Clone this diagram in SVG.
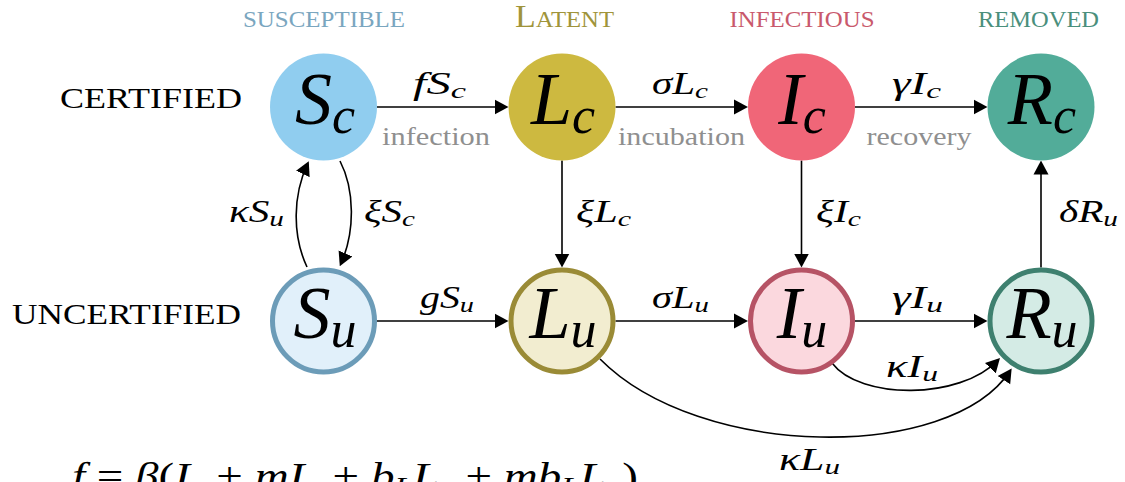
<svg xmlns="http://www.w3.org/2000/svg" width="1125" height="482" viewBox="0 0 1125 482">
<style>
.hd{font-family:"Liberation Serif",serif;}
.rl{font-family:"Liberation Serif",serif;font-size:30px;fill:#000;}
.nl{font-family:"Liberation Serif",serif;font-style:italic;font-size:74px;fill:#000;text-anchor:middle;}
.el{font-family:"Liberation Serif",serif;font-style:italic;font-size:31px;fill:#000;}
.gr{font-family:"Liberation Serif",serif;font-size:26px;fill:#8f8f8f;text-anchor:middle;}
.fm{font-family:"Liberation Serif",serif;font-size:37px;fill:#000;}
.c{fill:none;stroke:#000;stroke-width:1.6;marker-end:url(#ah);}
</style>
<defs>
<marker id="ah" markerUnits="userSpaceOnUse" markerWidth="14" markerHeight="16" refX="11" refY="8" orient="auto">
<path d="M0,0.5 L14,8 L0,15.5 z" fill="#000"/>
</marker>
</defs>

<g id="headers" class="hd">
<text x="324" y="27" font-size="22.5" fill="#7aa6bf" text-anchor="middle" textLength="162" lengthAdjust="spacingAndGlyphs">SUSCEPTIBLE</text>
<text x="564.5" y="27" fill="#a0943a" text-anchor="middle" textLength="99" lengthAdjust="spacingAndGlyphs"><tspan font-size="31">L</tspan><tspan font-size="22.5">ATENT</tspan></text>
<text x="802" y="27" font-size="22.5" fill="#c9596c" text-anchor="middle" textLength="145" lengthAdjust="spacingAndGlyphs">INFECTIOUS</text>
<text x="1038.5" y="27" font-size="22.5" fill="#4a8f7c" text-anchor="middle" textLength="121" lengthAdjust="spacingAndGlyphs">REMOVED</text>
</g>

<g id="rowlabels">
<text class="rl" x="60" y="108" textLength="182" lengthAdjust="spacingAndGlyphs">CERTIFIED</text>
<text class="rl" x="12" y="324" textLength="229" lengthAdjust="spacingAndGlyphs">UNCERTIFIED</text>
</g>

<g id="connectors">
<line class="c" x1="377" y1="107" x2="505.5" y2="107"/>
<line class="c" x1="615.5" y1="107" x2="745" y2="107"/>
<line class="c" x1="855" y1="107" x2="984.5" y2="107"/>
<line class="c" x1="377" y1="321" x2="505.5" y2="321"/>
<line class="c" x1="615.5" y1="321" x2="745" y2="321"/>
<line class="c" x1="855" y1="321" x2="984.5" y2="321"/>
<line class="c" x1="562" y1="160.5" x2="562" y2="264.5"/>
<line class="c" x1="801.5" y1="160.5" x2="801.5" y2="264.5"/>
<line class="c" x1="1041" y1="267.5" x2="1041" y2="163.5"/>
<path class="c" d="M307,267 C292,235 293,195 307.5,164"/>
<path class="c" d="M340,161 C355,190 355,232 341,263.5"/>
<path class="c" d="M832,363 C860,400 960,400 997.9,360.2"/>
<path class="c" d="M600,359 C700,460 950,462 1010,371"/>
</g>

<g id="edgelabels">
<text class="el" x="413" y="94" textLength="53" lengthAdjust="spacingAndGlyphs">fS<tspan font-size="22" dy="4">c</tspan></text>
<text class="el" x="652" y="94" textLength="56" lengthAdjust="spacingAndGlyphs">σL<tspan font-size="22" dy="4">c</tspan></text>
<text class="el" x="892" y="94" textLength="49" lengthAdjust="spacingAndGlyphs">γI<tspan font-size="22" dy="4">c</tspan></text>
<text class="gr" x="436" y="145" textLength="108" lengthAdjust="spacingAndGlyphs">infection</text>
<text class="gr" x="681.5" y="145" textLength="127" lengthAdjust="spacingAndGlyphs">incubation</text>
<text class="gr" x="919" y="145" textLength="105" lengthAdjust="spacingAndGlyphs">recovery</text>
<text class="el" x="229" y="222" textLength="55" lengthAdjust="spacingAndGlyphs">κS<tspan font-size="22" dy="4">u</tspan></text>
<text class="el" x="364" y="222" textLength="51" lengthAdjust="spacingAndGlyphs">ξS<tspan font-size="22" dy="4">c</tspan></text>
<text class="el" x="576" y="222" textLength="55" lengthAdjust="spacingAndGlyphs">ξL<tspan font-size="22" dy="4">c</tspan></text>
<text class="el" x="816" y="222" textLength="45" lengthAdjust="spacingAndGlyphs">ξI<tspan font-size="22" dy="4">c</tspan></text>
<text class="el" x="1059" y="222" textLength="59" lengthAdjust="spacingAndGlyphs">δR<tspan font-size="22" dy="4">u</tspan></text>
<text class="el" x="420" y="308" textLength="54" lengthAdjust="spacingAndGlyphs">gS<tspan font-size="22" dy="4">u</tspan></text>
<text class="el" x="652" y="308" textLength="57" lengthAdjust="spacingAndGlyphs">σL<tspan font-size="22" dy="4">u</tspan></text>
<text class="el" x="892" y="308" textLength="51" lengthAdjust="spacingAndGlyphs">γI<tspan font-size="22" dy="4">u</tspan></text>
<text class="el" x="886" y="377" textLength="52" lengthAdjust="spacingAndGlyphs">κI<tspan font-size="22" dy="4">u</tspan></text>
<text class="el" x="779" y="470" textLength="61" lengthAdjust="spacingAndGlyphs">κL<tspan font-size="22" dy="4">u</tspan></text>
</g>

<g id="node-Sc"><circle cx="323.5" cy="107" r="53.5" fill="#90cdef"/><text class="nl" x="325" y="124">S<tspan font-size="52" dy="9">c</tspan></text></g>
<g id="node-Lc"><circle cx="562" cy="107" r="53.5" fill="#cdb940"/><text class="nl" x="563" y="124">L<tspan font-size="52" dy="9">c</tspan></text></g>
<g id="node-Ic"><circle cx="801.5" cy="107" r="53.5" fill="#f06678"/><text class="nl" x="802" y="124">I<tspan font-size="52" dy="9">c</tspan></text></g>
<g id="node-Rc"><circle cx="1041" cy="107" r="53.5" fill="#52ac99"/><text class="nl" x="1042" y="124">R<tspan font-size="52" dy="9">c</tspan></text></g>

<g id="node-Su"><circle cx="323.5" cy="321" r="51" fill="#e1f0fa" stroke="#6c9cb8" stroke-width="5"/><text class="nl" x="325" y="338">S<tspan font-size="52" dy="9">u</tspan></text></g>
<g id="node-Lu"><circle cx="562" cy="321" r="51" fill="#f2edd0" stroke="#9a8b36" stroke-width="5"/><text class="nl" x="563" y="338">L<tspan font-size="52" dy="9">u</tspan></text></g>
<g id="node-Iu"><circle cx="801.5" cy="321" r="51" fill="#fbd8de" stroke="#b65365" stroke-width="5"/><text class="nl" x="802" y="338">I<tspan font-size="52" dy="9">u</tspan></text></g>
<g id="node-Ru"><circle cx="1041" cy="321" r="51" fill="#d4ebe5" stroke="#3e806f" stroke-width="5"/><text class="nl" x="1042" y="338">R<tspan font-size="52" dy="9">u</tspan></text></g>

<g id="formula">
<text class="fm" x="72" y="489" textLength="566" lengthAdjust="spacingAndGlyphs"><tspan font-style="italic">f</tspan> = <tspan font-style="italic">β</tspan>(<tspan font-style="italic">I</tspan><tspan font-size="26" font-style="italic" dy="6">c</tspan><tspan dy="-6"> + </tspan><tspan font-style="italic">mI</tspan><tspan font-size="26" font-style="italic" dy="6">u</tspan><tspan dy="-6"> + </tspan><tspan font-style="italic">b</tspan><tspan font-size="26" font-style="italic" dy="6">L</tspan><tspan font-style="italic" dy="-6">L</tspan><tspan font-size="26" font-style="italic" dy="6">c</tspan><tspan dy="-6"> + </tspan><tspan font-style="italic">mb</tspan><tspan font-size="26" font-style="italic" dy="6">L</tspan><tspan font-style="italic" dy="-6">L</tspan><tspan font-size="26" font-style="italic" dy="6">u</tspan><tspan dy="-6">)</tspan></text>
</g>
</svg>
